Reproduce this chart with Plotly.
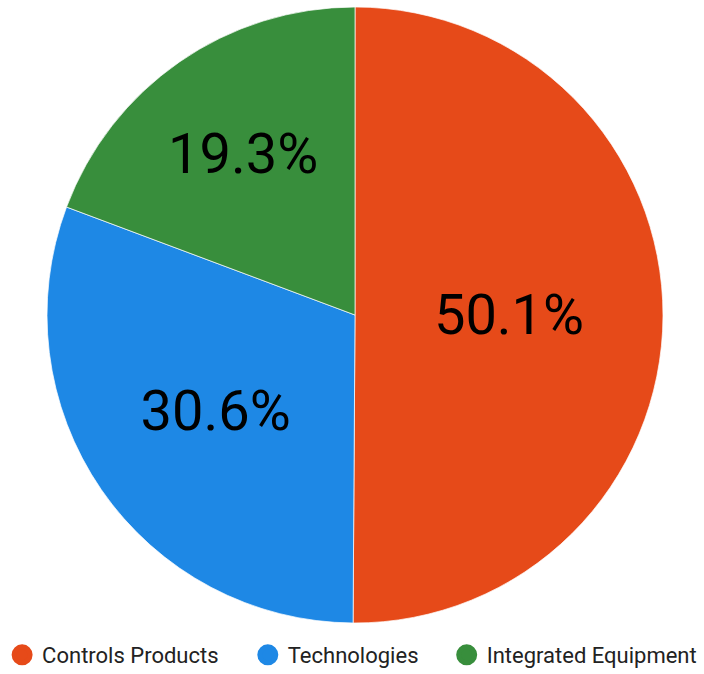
import plotly.graph_objects as go

labels = ["Controls Products", "Technologies", "Integrated Equipment"]
values = [50.1, 30.6, 19.3]
colors = ["#E64A19", "#1E88E5", "#388E3C"]

W, H = 704, 674
fig = go.Figure()
fig.add_trace(go.Pie(
    labels=labels, values=values, sort=False, direction="clockwise", rotation=0,
    marker=dict(colors=colors, line=dict(color="white", width=0.7)),
    textinfo="percent", texttemplate="%{percent:.1%}",
    textposition="inside", insidetextorientation="horizontal",
    textfont=dict(family="Roboto", size=56, color="black"),
    showlegend=False, hoverinfo="label+percent",
    domain=dict(x=[47 / W, 663 / W], y=[1 - 623 / H, 1 - 7 / H]),
))
legend_names = ["legend", "legend2", "legend3"]
legend_x = [0.003, 0.352, 0.6345]
for lab, col, lg in zip(labels, colors, legend_names):
    fig.add_trace(go.Scatter(
        x=[None], y=[None], mode="markers", name=lab, legend=lg,
        marker=dict(symbol="circle", size=16, color=col, line=dict(color=col, width=5)),
        showlegend=True,
    ))
legend_common = dict(orientation="h", xanchor="left", y=-0.003, yanchor="bottom",
                     font=dict(family="Roboto", size=22, color="#222222"),
                     bgcolor="rgba(0,0,0,0)")
fig.update_layout(
    width=W, height=H, margin=dict(l=0, r=0, t=0, b=0, autoexpand=False),
    paper_bgcolor="white", plot_bgcolor="white",
    xaxis=dict(visible=False), yaxis=dict(visible=False),
    font=dict(family="Roboto", color="#222222"),
    legend=dict(x=legend_x[0], **legend_common),
    legend2=dict(x=legend_x[1], **legend_common),
    legend3=dict(x=legend_x[2], **legend_common),
)
fig.write_html("out.html", config={"displayModeBar": False},
               post_script="document.body.style.margin='0';document.body.style.overflow='hidden';")
